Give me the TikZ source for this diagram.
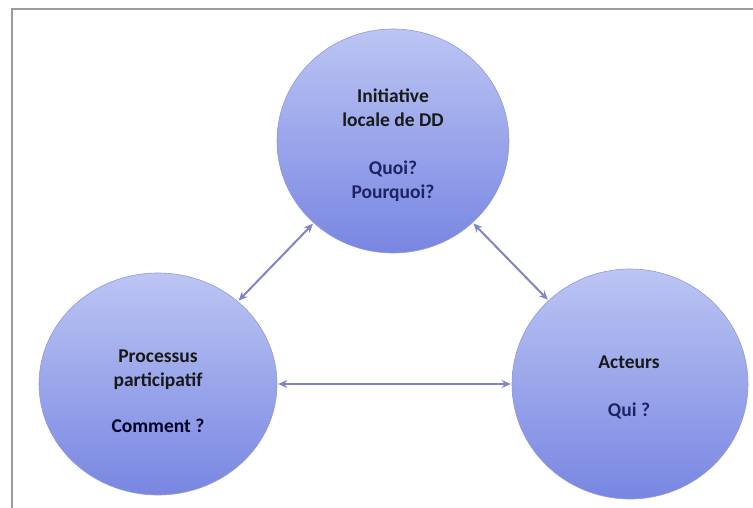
\documentclass[tikz,border=0pt]{standalone}
\usepackage{fontspec}
\setmainfont{Carlito}
\usetikzlibrary{shapes.geometric,arrows.meta}
\definecolor{ctop}{RGB}{188,197,243}
\definecolor{cbot}{RGB}{120,134,226}
\definecolor{cedge}{RGB}{145,155,218}
\definecolor{carrow}{RGB}{128,132,200}
\definecolor{cnavy}{RGB}{28,36,100}
\definecolor{cframe}{RGB}{155,155,155}
\tikzset{
  bubble/.style={ellipse, draw=cedge, line width=0.6pt, top color=ctop, bottom color=cbot, inner sep=0pt},
  lbl/.style={font=\bfseries\fontsize{19.5}{24}\selectfont, align=center, anchor=base, inner sep=0pt},
  link/.style={draw=carrow, line width=2pt, {Stealth[length=9pt,width=8pt]}-{Stealth[length=9pt,width=8pt]}, shorten <=1pt, shorten >=1pt}
}
\begin{document}
\begin{tikzpicture}[x=1pt,y=-1pt]
\useasboundingbox (0,0) rectangle (753,508);
\fill[white] (0,0) rectangle (753,508);
\coordinate (fa) at (12,508);
\coordinate (fb) at (12,9);
\coordinate (fc) at (753,9);
\draw[cframe, line width=1.3pt] (fa) -- (fb) -- (fc);
\node[bubble, minimum width=232pt, minimum height=224pt] (T) at (393,141) {};
\node[bubble, minimum width=238pt, minimum height=222pt] (L) at (158,384) {};
\node[bubble, minimum width=236pt, minimum height=230pt] (R) at (630,384) {};
\draw[link] (L) -- (T);
\draw[link] (T) -- (R);
\draw[link] (L) -- (R);
\node[lbl, text=black!90] (t1) at (393,103) {Initiative};
\node[lbl, text=black!90] (t2) at (393,127) {locale de DD};
\node[lbl, text=cnavy] (t3) at (393,175) {Quoi?};
\node[lbl, text=cnavy] (t4) at (393,199) {Pourquoi?};
\node[lbl, text=black!90] (l1) at (158,362) {Processus};
\node[lbl, text=black!90] (l2) at (158,386) {participatif};
\node[lbl, text=black!85!blue] (l3) at (158,432) {Comment ?};
\node[lbl, text=black!90] (r1) at (629,368) {Acteurs};
\node[lbl, text=cnavy] (r2) at (629,416) {Qui ?};
\end{tikzpicture}
\end{document}
